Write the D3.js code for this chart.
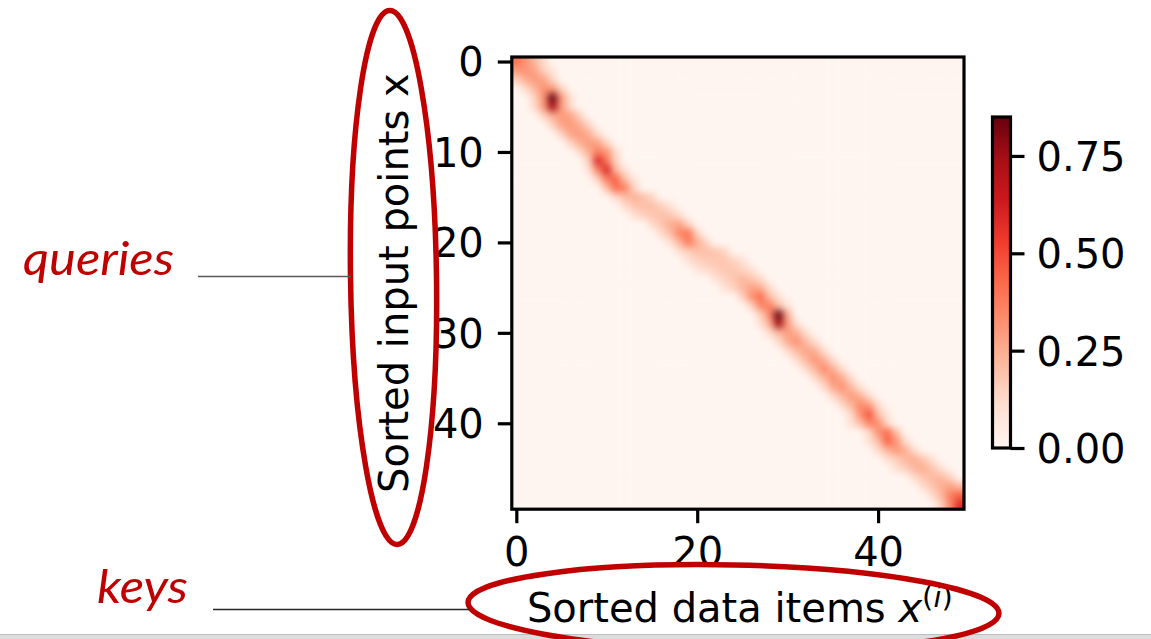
<!DOCTYPE html>
<html>
<head>
<meta charset="utf-8">
<script src="https://cdn.jsdelivr.net/npm/d3@7"></script>
<style>
  body { margin: 0; background: #fff; }
  svg { display: block; }
</style>
</head>
<body>
<svg id="chart" width="1151" height="639"></svg>
<script>
// ---- data -------------------------------------------------------------
const nItems = 50;

// Attention weights, one entry per query row (sorted input points).
// Each entry: first key column with a visible weight, then the weights
// for consecutive key columns. All other cells are ~0.
const attnRows = [
  [0, 0.40, 0.32, 0.22, 0.12],
  [0, 0.30, 0.32, 0.28, 0.15, 0.08],
  [0, 0.15, 0.25, 0.30, 0.28, 0.14],
  [1, 0.12, 0.22, 0.32, 0.30, 0.14],
  [2, 0.14, 0.32, 0.85, 0.30, 0.10],
  [2, 0.12, 0.30, 0.75, 0.30, 0.12],
  [3, 0.14, 0.25, 0.30, 0.28, 0.15],
  [4, 0.15, 0.28, 0.30, 0.25, 0.14],
  [5, 0.15, 0.28, 0.30, 0.25, 0.12],
  [6, 0.14, 0.25, 0.30, 0.28, 0.14],
  [7, 0.12, 0.25, 0.38, 0.32, 0.12],
  [8, 0.15, 0.60, 0.40, 0.14],
  [8, 0.10, 0.35, 0.60, 0.22, 0.10],
  [9, 0.15, 0.38, 0.45, 0.20, 0.08],
  [10, 0.20, 0.42, 0.38, 0.15],
  [11, 0.12, 0.20, 0.24, 0.20, 0.14],
  [12, 0.12, 0.18, 0.20, 0.20, 0.16, 0.10],
  [13, 0.10, 0.15, 0.18, 0.20, 0.18, 0.12],
  [15, 0.12, 0.18, 0.25, 0.28, 0.15],
  [16, 0.12, 0.20, 0.35, 0.40, 0.15],
  [17, 0.10, 0.22, 0.38, 0.25, 0.14],
  [18, 0.10, 0.15, 0.20, 0.20, 0.18, 0.14],
  [19, 0.10, 0.14, 0.17, 0.18, 0.18, 0.14, 0.10],
  [20, 0.08, 0.12, 0.15, 0.18, 0.18, 0.14, 0.10],
  [22, 0.10, 0.14, 0.18, 0.22, 0.18, 0.12],
  [23, 0.10, 0.15, 0.22, 0.28, 0.25, 0.12],
  [25, 0.15, 0.32, 0.42, 0.20, 0.10],
  [26, 0.15, 0.35, 0.38, 0.20, 0.08],
  [27, 0.15, 0.35, 0.85, 0.25],
  [27, 0.10, 0.25, 0.75, 0.30, 0.10],
  [28, 0.12, 0.22, 0.30, 0.25, 0.12],
  [29, 0.12, 0.25, 0.33, 0.22, 0.12],
  [30, 0.12, 0.22, 0.28, 0.25, 0.12],
  [31, 0.12, 0.22, 0.32, 0.25, 0.12],
  [32, 0.12, 0.22, 0.35, 0.25, 0.12],
  [33, 0.12, 0.22, 0.34, 0.26, 0.12],
  [34, 0.12, 0.26, 0.33, 0.22, 0.10],
  [35, 0.12, 0.22, 0.30, 0.25, 0.12],
  [36, 0.12, 0.22, 0.35, 0.30, 0.12],
  [37, 0.12, 0.32, 0.48, 0.20, 0.08],
  [37, 0.10, 0.20, 0.36, 0.34, 0.12],
  [39, 0.12, 0.32, 0.42, 0.20],
  [39, 0.10, 0.20, 0.44, 0.32, 0.12],
  [40, 0.12, 0.22, 0.30, 0.25, 0.12],
  [41, 0.10, 0.15, 0.22, 0.25, 0.18, 0.10],
  [42, 0.10, 0.15, 0.22, 0.25, 0.18, 0.10],
  [44, 0.12, 0.18, 0.22, 0.22, 0.15],
  [45, 0.12, 0.18, 0.25, 0.28, 0.22],
  [46, 0.12, 0.22, 0.38, 0.45],
  [47, 0.15, 0.35, 0.58]
];

const xTickValues = [0, 20, 40];
const yTickValues = [0, 10, 20, 30, 40];
const cbarTickValues = [0, 0.25, 0.5, 0.75];
const redsPalette = ["#fff5f0", "#fee0d2", "#fcbba1", "#fc9272", "#fb6a4a",
                     "#ef3b2c", "#cb181d", "#a50f15", "#67000d"];

// ---- dense matrix -----------------------------------------------------
const matrix = d3.range(nItems).map(() => new Array(nItems).fill(0));
attnRows.forEach((row, r) => {
  const [start, ...w] = row;
  w.forEach((v, k) => { matrix[r][start + k] = v; });
});
const vmax = d3.max(matrix.flat());

// ---- layout -----------------------------------------------------------
const svg = d3.select("#chart");
const plot = { left: 511.8, top: 57, size: 452.2 };
const cbar = { left: 992.5, width: 18, top: 117, bottom: 448 };
const FONT = "'DejaVu Sans', sans-serif";
const SPINE = 3.2, TICK = 14, PAD = 14;

const x = d3.scaleLinear().domain([-0.5, nItems - 0.5])
  .range([plot.left, plot.left + plot.size]);
const y = d3.scaleLinear().domain([-0.5, nItems - 0.5])
  .range([plot.top, plot.top + plot.size]);
const color = d3.scaleLinear()
  .domain(redsPalette.map((_, i) => vmax * i / (redsPalette.length - 1)))
  .range(redsPalette)
  .clamp(true);

const defs = svg.append("defs");
defs.append("clipPath").attr("id", "plot-clip")
  .append("rect")
  .attr("x", x(-0.5)).attr("y", y(-0.5))
  .attr("width", x(nItems - 0.5) - x(-0.5))
  .attr("height", y(nItems - 0.5) - y(-0.5));
defs.append("filter").attr("id", "soft")
  .attr("x", "-10%").attr("y", "-10%").attr("width", "120%").attr("height", "120%")
  .attr("color-interpolation-filters", "sRGB")
  .append("feGaussianBlur").attr("stdDeviation", 3.8);

// ---- heatmap (smoothed; border cells repeated outward so edges keep their tone) ----
const pad = 3;
const cells = [];
for (let r = -pad; r < nItems + pad; r++) {
  for (let c = -pad; c < nItems + pad; c++) {
    const rr = Math.max(0, Math.min(nItems - 1, r));
    const cc = Math.max(0, Math.min(nItems - 1, c));
    cells.push({ r, c, v: matrix[rr][cc] });
  }
}
svg.append("g")
  .attr("clip-path", "url(#plot-clip)")
  .append("g")
  .attr("filter", "url(#soft)")
  .selectAll("rect")
  .data(cells)
  .join("rect")
  .attr("x", d => x(d.c - 0.5))
  .attr("y", d => y(d.r - 0.5))
  .attr("width", x(1) - x(0) + 0.3)
  .attr("height", y(1) - y(0) + 0.3)
  .attr("fill", d => color(d.v));

// ---- axes -------------------------------------------------------------
function styleAxis(g) {
  g.select(".domain").remove();
  g.selectAll(".tick line").attr("stroke", "#000").attr("stroke-width", SPINE);
  g.selectAll(".tick text").attr("fill", "#000")
    .style("font-family", FONT).style("font-size", "40px");
}

svg.append("g")
  .attr("transform", `translate(0,${y(nItems - 0.5)})`)
  .call(d3.axisBottom(x).tickValues(xTickValues).tickSize(TICK).tickPadding(PAD)
    .tickFormat(d3.format("d")))
  .call(styleAxis);

svg.append("g")
  .attr("transform", `translate(${x(-0.5)},0)`)
  .call(d3.axisLeft(y).tickValues(yTickValues).tickSize(TICK).tickPadding(PAD)
    .tickFormat(d3.format("d")))
  .call(styleAxis)
  .call(g => g.selectAll(".tick text").attr("dy", "0.36em"));

// frame
svg.append("rect")
  .attr("x", x(-0.5)).attr("y", y(-0.5))
  .attr("width", x(nItems - 0.5) - x(-0.5))
  .attr("height", y(nItems - 0.5) - y(-0.5))
  .attr("fill", "none").attr("stroke", "#000").attr("stroke-width", SPINE);

// axis labels
svg.append("text")
  .attr("transform", `translate(408,${(y(-0.5) + y(nItems - 0.5)) / 2}) rotate(-90)`)
  .attr("text-anchor", "middle")
  .style("font-family", FONT).style("font-size", "40px").attr("fill", "#000")
  .text("Sorted input points x");

const xLab = svg.append("text")
  .attr("x", (x(-0.5) + x(nItems - 0.5)) / 2 + 2)
  .attr("y", 622)
  .attr("text-anchor", "middle")
  .style("font-family", FONT).style("font-size", "40px").attr("fill", "#000");
xLab.append("tspan").text("Sorted data items ");
xLab.append("tspan").style("font-style", "oblique").text("x");
xLab.append("tspan").attr("dy", -15).style("font-size", "29px").text("(");
xLab.append("tspan").style("font-size", "29px").style("font-style", "oblique").text("i");
xLab.append("tspan").style("font-size", "29px").text(")");

// ---- colorbar ---------------------------------------------------------
const cy = d3.scaleLinear().domain([0, vmax]).range([cbar.bottom, cbar.top]);
const grad = defs.append("linearGradient").attr("id", "cbar-grad")
  .attr("x1", 0).attr("y1", 1).attr("x2", 0).attr("y2", 0);
grad.selectAll("stop")
  .data(d3.range(0, 1.0001, 1 / 32))
  .join("stop")
  .attr("offset", t => t)
  .attr("stop-color", t => color(t * vmax));

svg.append("rect")
  .attr("x", cbar.left).attr("y", cy(vmax))
  .attr("width", cbar.width).attr("height", cy(0) - cy(vmax))
  .attr("fill", "url(#cbar-grad)")
  .attr("stroke", "#000").attr("stroke-width", SPINE);

svg.append("g")
  .attr("transform", `translate(${cbar.left + cbar.width},0)`)
  .call(d3.axisRight(cy).tickValues(cbarTickValues).tickSize(TICK).tickPadding(PAD - 2)
    .tickFormat(d3.format(".2f")))
  .call(styleAxis)
  .call(g => g.selectAll(".tick text").attr("dy", "0.36em"));

// ---- annotations ------------------------------------------------------
const RED = "#c00000";
const ANNOT_FONT = "Lato, 'Open Sans', sans-serif";

// bottom edge of the slide
svg.append("rect").attr("x", 0).attr("y", 634).attr("width", 1151).attr("height", 5)
  .attr("fill", "#dcdcdc");
svg.append("line").attr("x1", 0).attr("x2", 1151).attr("y1", 634.5).attr("y2", 634.5)
  .attr("stroke", "#bfbfbf").attr("stroke-width", 1);

svg.append("ellipse")
  .attr("cx", 393.5).attr("cy", 277.5).attr("rx", 43).attr("ry", 267)
  .attr("transform", "rotate(-0.8,393.5,277.5)")
  .attr("fill", "none").attr("stroke", RED).attr("stroke-width", 5.5);

svg.append("ellipse")
  .attr("cx", 733.5).attr("cy", 608).attr("rx", 265.5).attr("ry", 43)
  .attr("transform", "rotate(1.2,733.5,608)")
  .attr("fill", "none").attr("stroke", RED).attr("stroke-width", 5.5);

svg.append("line").attr("x1", 198).attr("x2", 351).attr("y1", 276.5).attr("y2", 276.5)
  .attr("stroke", "#595959").attr("stroke-width", 1.3);
svg.append("line").attr("x1", 213).attr("x2", 469).attr("y1", 609.5).attr("y2", 609.5)
  .attr("stroke", "#262626").attr("stroke-width", 1.3);

svg.append("text").attr("x", 23).attr("y", 275)
  .attr("textLength", 151).attr("lengthAdjust", "spacingAndGlyphs")
  .style("font-family", ANNOT_FONT).style("font-style", "italic").style("font-size", "47px")
  .attr("fill", RED).text("queries");
svg.append("text").attr("x", 97).attr("y", 603)
  .attr("textLength", 91).attr("lengthAdjust", "spacingAndGlyphs")
  .style("font-family", ANNOT_FONT).style("font-style", "italic").style("font-size", "47px")
  .attr("fill", RED).text("keys");
</script>
</body>
</html>
